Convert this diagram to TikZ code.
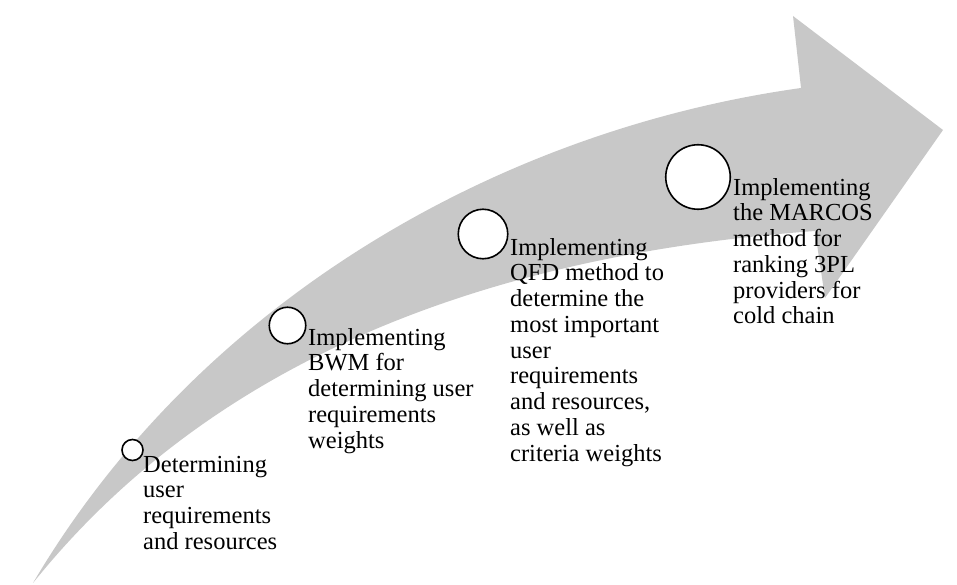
\documentclass[tikz,border=0pt]{standalone}
\usepackage{fontspec}
\setmainfont{Liberation Serif}
\definecolor{arrowgray}{RGB}{200,200,200}
\begin{document}
\begin{tikzpicture}[x=1pt,y=-1pt,
  stepcircle/.style={circle,draw=black,fill=white,line width=1.6pt,inner sep=0pt},
  steptext/.style={anchor=base west,align=left,inner sep=0pt,font=\fontsize{24.5}{25.75}\selectfont}]
\useasboundingbox (0,0) rectangle (957,585);
% big curved arrow
\fill[arrowgray] (33,583) .. controls (200,300) and (500,130) .. (801,88)
  -- (793,16) -- (943,130) -- (825,298) -- (815,231)
  .. controls (420,260) and (180,400) .. (33,583) -- cycle;
% circles
\node[stepcircle,minimum size=21pt] (c1) at (132.5,450) {};
\node[stepcircle,minimum size=36.5pt] (c2) at (287.5,325.5) {};
\node[stepcircle,minimum size=49.5pt] (c3) at (483,234) {};
\node[stepcircle,minimum size=64.5pt] (c4) at (698,177) {};
% texts (anchored at the baseline of the last line)
\node[steptext] (t1) at (143,549.25) {Determining\\user\\requirements\\and resources};
\node[steptext] (t2) at (308,448) {Implementing\\BWM for\\determining user\\requirements\\weights};
\node[steptext] (t3) at (510,461) {Implementing\\QFD method to\\determine the\\most important\\user\\requirements\\and resources,\\as well as\\criteria weights};
\node[steptext] (t4) at (733,323.75) {Implementing\\the MARCOS\\method for\\ranking 3PL\\providers for\\cold chain};
\end{tikzpicture}
\end{document}
